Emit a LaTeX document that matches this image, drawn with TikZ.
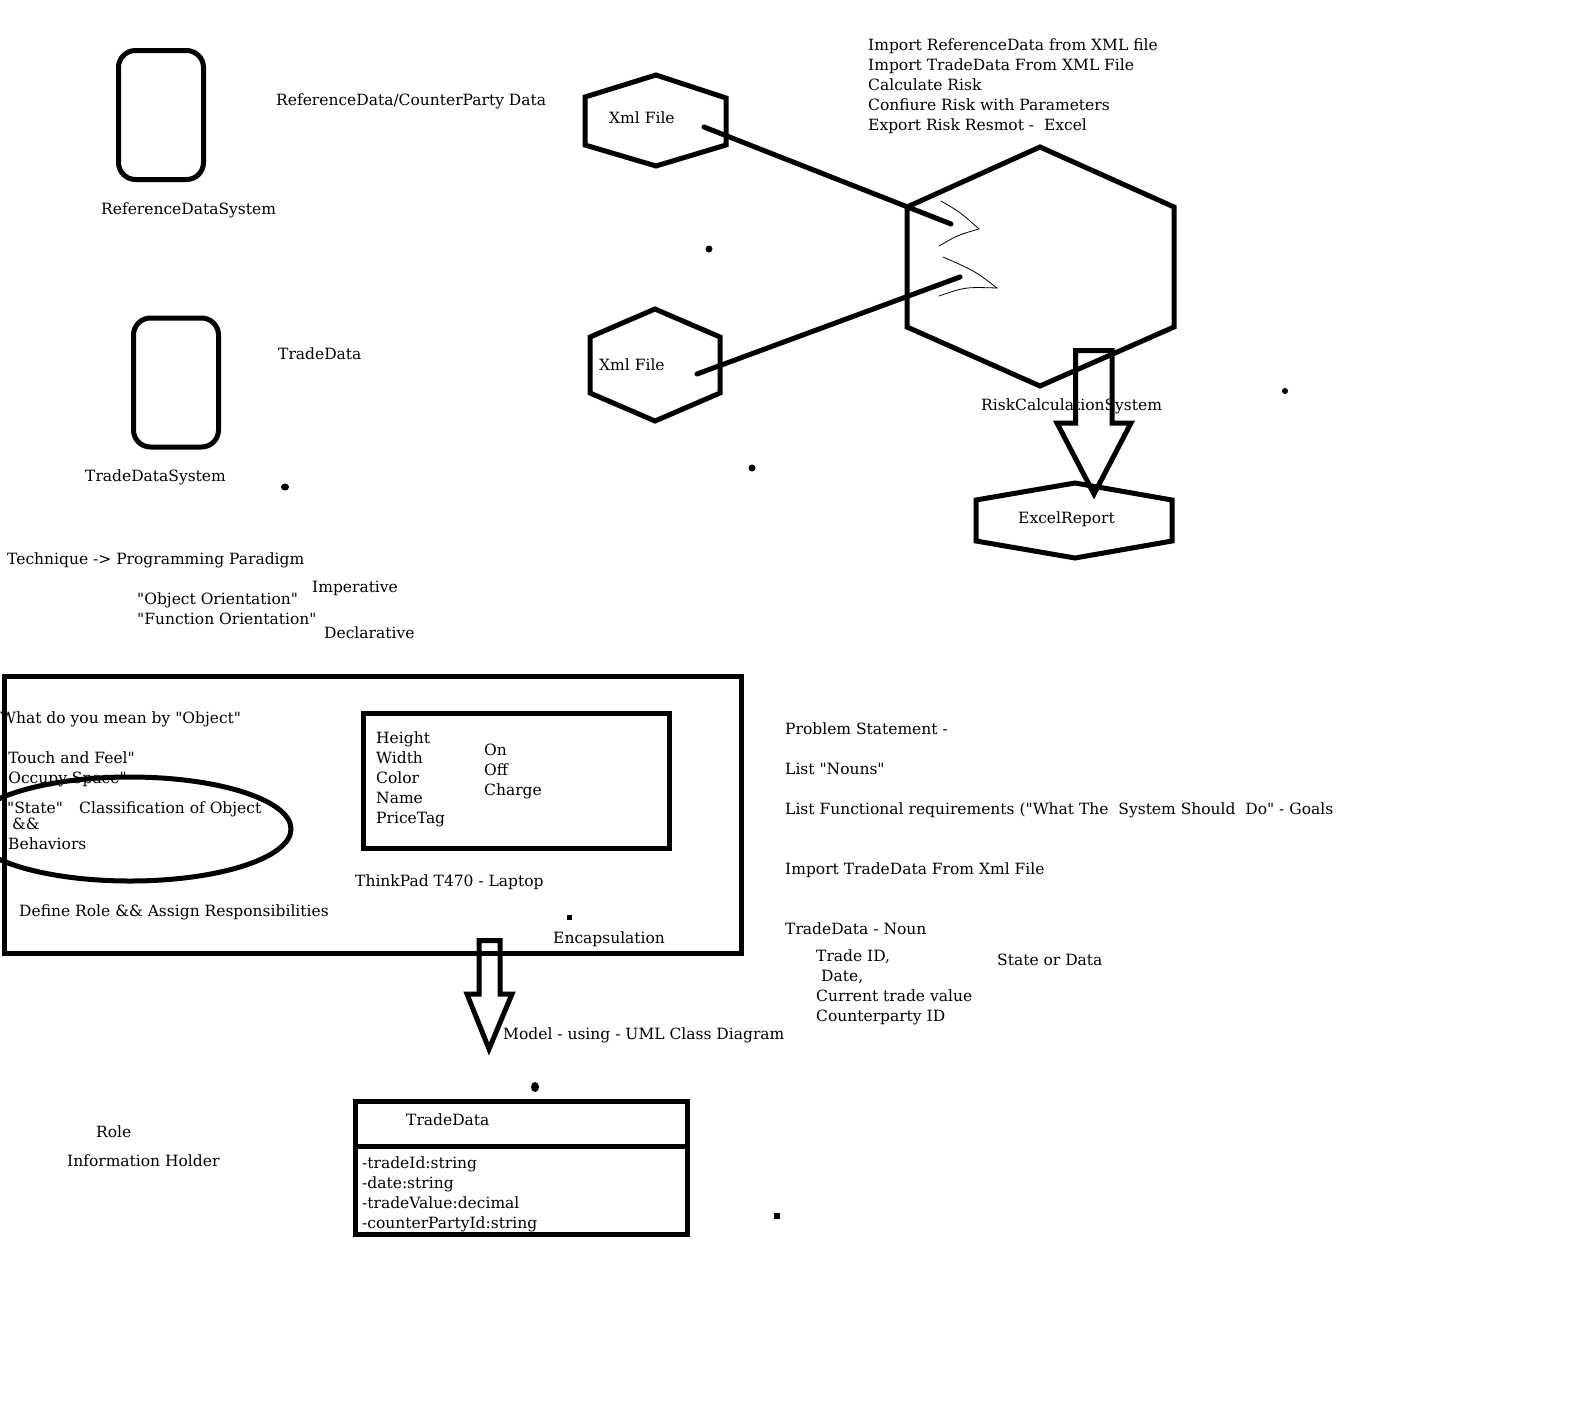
\documentclass[tikz,border=0pt]{standalone}
\usepackage{fontspec}
\setmainfont{DejaVu Serif}[Ligatures=TeXOff]

\begin{document}
\begin{tikzpicture}[x=1pt, y=-1pt,
  every node/.style={font=\fontsize{15.5}{20}\selectfont},
  note/.style={anchor=base west, inner sep=0pt},
  sysbox/.style={draw, line width=5pt, rounded corners=17pt, minimum width=85pt, minimum height=129pt, inner sep=0pt},
  pen/.style={line width=5pt},
  sketch/.style={line width=0.8pt, line cap=round}]

  % Page
  \fill[white] (0,0) rectangle (1571,1403);
  \useasboundingbox (0,0) rectangle (1571,1403);

  % Rounded boxes for the two data systems
  \node[sysbox] (ReferenceDataBox) at (161,115) {};
  \node[note] (ReferenceDataSystem) at (101,214) {ReferenceDataSystem};
  \node[note] (ReferenceDataLabel) at (276,105) {ReferenceData/CounterParty Data};
  \node[sysbox] (TradeDataBox) at (176,382.5) {};
  \node[note] (TradeDataSystem) at (85,481) {TradeDataSystem};
  \node[note] (TradeDataLabel) at (278,359) {TradeData};

  % Hexagons for the xml files
  \draw[pen] (656,75) -- (726,98) -- (726,145) -- (656,166) -- (585,145) -- (585,97) -- cycle;
  \node[note] (XmlRef) at (609,123) {Xml File};
  \draw[pen] (655,309) -- (720,337) -- (720,393) -- (655,421) -- (590,393) -- (590,337) -- cycle;
  \node[note] (XmlTrade) at (599,370) {Xml File};

  % Requirements
  \foreach \req [count=\i from 0] in {Import ReferenceData from XML file, Import TradeData From XML File, Calculate Risk, Confiure Risk with Parameters, {Export Risk Resmot -\ \ Excel}}
    \node[note] (Req\i) at (868,50+20*\i) {\req};

  % Risk calculation system
  \draw[pen] (1040,147) -- (1174,207) -- (1174,327) -- (1040,386) -- (907,327) -- (907,207) -- cycle;
  \node[note] (RiskCalculationSystem) at (981,410) {RiskCalculationSystem};
  \draw[sketch] (941,201) .. controls (960,212) .. (979,229) .. controls (958,235) .. (939,246);
  \draw[sketch] (943,257) .. controls (975,271) .. (997,288) .. controls (965,287) .. (939,296);

  \coordinate (RefLineStart) at (704,127);
  \coordinate (RefLineEnd) at (951,224);
  \coordinate (TradeLineStart) at (697,374);
  \coordinate (TradeLineEnd) at (960,277);
  \draw[pen, line cap=round] (RefLineStart) -- (RefLineEnd);
  \draw[pen, line cap=round] (TradeLineStart) -- (TradeLineEnd);

  % Report
  \draw[pen] (1075,483) -- (1172,500) -- (1172,541) -- (1075,558) -- (976,541) -- (976,500) -- cycle;
  \node[note] (ExcelReport) at (1018,523) {ExcelReport};
  \draw[pen] (1075.5,423) -- (1075.5,350.5) -- (1112,350.5) -- (1112,423) -- (1131,423) -- (1094,494) -- (1057,423) -- cycle;

  % Dots
  \fill (709,249) circle [radius=3.5];
  \fill (285,487) ellipse [x radius=4, y radius=3.5];
  \fill (752,468) circle [radius=3.5];
  \fill (1285,391) circle [radius=3];

  % Paradigms
  \node[note] (Technique) at (7,564) {Technique -> Programming Paradigm};
  \node[note] (Imperative) at (312,592) {Imperative};
  \node[note] (ObjectOrientation) at (137,604) {"Object Orientation"};
  \node[note] (FunctionOrientation) at (137,624) {"Function Orientation"};
  \node[note] (Declarative) at (324,638) {Declarative};

  % Object
  \node[note] (WhatObject) at (0,723) {What do you mean by "Object"};
  \node[note] (TouchFeel) at (1,763) {"Touch and Feel"};
  \node[note] (OccupySpace) at (1,783) {"Occupy Space"};
  \node[note] (State) at (7,813) {"State"};
  \node[note] (Classification) at (79,813) {Classification of Object};
  \node[note] (AndAnd) at (12,829) {\&\&};
  \node[note] (Behaviors) at (8,849) {Behaviors};
  \draw[pen] (130,829) ellipse [x radius=161, y radius=52];

  \draw[pen] (363.5,713.5) rectangle (669.5,848.5);
  \foreach \prop [count=\i from 0] in {Height, Width, Color, Name, PriceTag}
    \node[note] (Prop\i) at (376,743+20*\i) {\prop};
  \foreach \act [count=\i from 0] in {On, Off, Charge}
    \node[note] (Act\i) at (484,755+20*\i) {\act};
  \node[note] (ThinkPad) at (355,886) {ThinkPad T470 - Laptop};
  \node[note] (DefineRole) at (19,916) {Define Role \&\& Assign Responsibilities};
  \fill (566.5,914.5) rectangle (571.5,919.5);
  \node[note] (Encapsulation) at (553,943) {Encapsulation};
  \draw[pen] (4.5,676.5) rectangle (741,953.5);

  % Down to the class diagram
  \draw[pen] (479,994) -- (479,940.5) -- (500,940.5) -- (500,994) -- (512,994) -- (489,1049) -- (467,994) -- cycle;
  \node[note] (UmlModel) at (503,1039) {Model - using - UML Class Diagram};
  \fill (535,1087) ellipse [x radius=4, y radius=5];

  % Class TradeData
  \draw[pen] (355.5,1101.5) rectangle (687.5,1234.5);
  \draw[pen] (355.5,1146) -- (687.5,1146);
  \node[note] (ClassName) at (406,1125) {TradeData};
  \foreach \attr [count=\i from 0] in {-tradeId:string, -date:string, -tradeValue:decimal, -counterPartyId:string}
    \node[note] (Attr\i) at (362,1168+20*\i) {\attr};
  \fill (774,1213) rectangle (780,1219);
  \node[note] (Role) at (96,1137) {Role};
  \node[note] (InformationHolder) at (67,1166) {Information Holder};

  % Problem statement
  \node[note] (ProblemStatement) at (785,734) {Problem Statement -};
  \node[note] (ListNouns) at (785,774) {List "Nouns"};
  \node[note] (ListFunctional) at (785,814) {List Functional requirements ("What The\ \ System Should\ \ Do" - Goals};
  \node[note] (ImportTrade) at (785,874) {Import TradeData From Xml File};
  \node[note] (TradeDataNoun) at (785,934) {TradeData - Noun};
  \node[note] (TradeId) at (816,961) {Trade ID,};
  \node[note] (TradeDate) at (821,981) {Date,};
  \node[note] (TradeValue) at (816,1001) {Current trade value};
  \node[note] (CounterpartyId) at (816,1021) {Counterparty ID};
  \node[note] (StateOrData) at (997,965) {State or Data};

\end{tikzpicture}
\end{document}
